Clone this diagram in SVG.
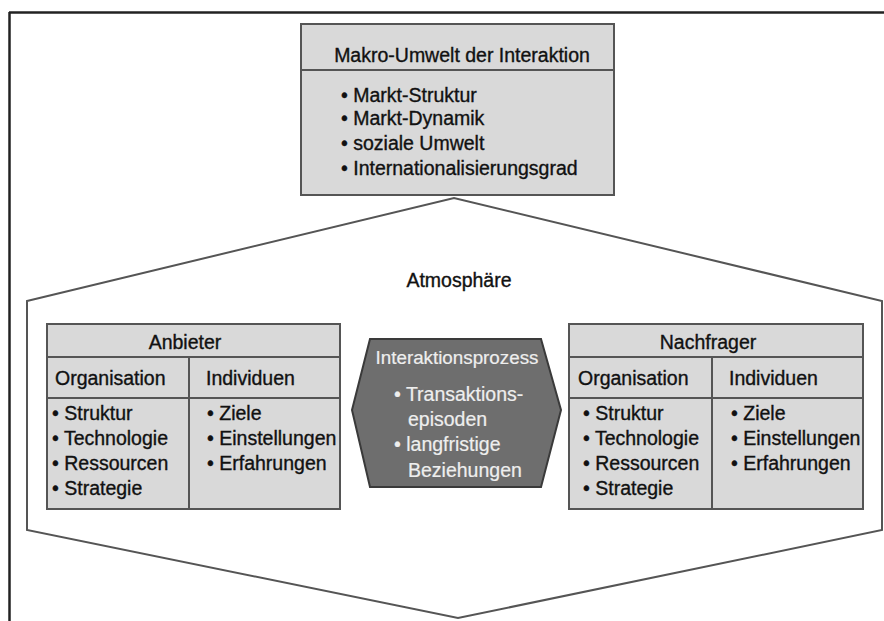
<svg xmlns="http://www.w3.org/2000/svg" width="884" height="621" viewBox="0 0 884 621">
<style>
text{font-family:"Liberation Sans",Arial,sans-serif;font-size:19.5px;fill:#111;stroke:#111;stroke-width:0.35px}
.box{fill:#d9d9d9;stroke:#555;stroke-width:2}
.sep{stroke:#555;stroke-width:2}
.mid{text-anchor:middle}
.light{fill:#eeeeee;stroke:#eeeeee;stroke-width:0.2px}
</style>
<rect x="0" y="0" width="884" height="621" fill="#fff"/>
<g id="frame" fill="none" stroke="#222" stroke-width="2.5">
<line x1="9" y1="12.5" x2="884" y2="12.5"/>
<line x1="9.5" y1="12" x2="9.5" y2="621"/>
</g>
<g id="atmosphaere">
<polygon points="27,301 454,198 882,301 882,530 458,618 27,530" fill="#fff" stroke="#555" stroke-width="2"/>
<text x="459" y="287" class="mid">Atmosphäre</text>
</g>
<g id="makro">
<rect class="box" x="301" y="24" width="313" height="171"/>
<line class="sep" x1="301" y1="70" x2="614" y2="70"/>
<text x="462" y="62" class="mid">Makro-Umwelt der Interaktion</text>
<text x="341" y="102">• Markt-Struktur</text>
<text x="341" y="125">• Markt-Dynamik</text>
<text x="341" y="150">• soziale Umwelt</text>
<text x="341" y="175">• Internationalisierungsgrad</text>
</g>
<g id="anbieter">
<rect class="box" x="47" y="324" width="293" height="185"/>
<line class="sep" x1="47" y1="357" x2="340" y2="357"/>
<line class="sep" x1="47" y1="398" x2="340" y2="398"/>
<line class="sep" x1="189" y1="357" x2="189" y2="509"/>
<text x="185" y="349" class="mid">Anbieter</text>
<text x="55" y="385">Organisation</text>
<text x="206" y="385">Individuen</text>
<text x="52" y="420">• Struktur</text>
<text x="52" y="445">• Technologie</text>
<text x="52" y="470">• Ressourcen</text>
<text x="52" y="495">• Strategie</text>
<text x="207" y="420">• Ziele</text>
<text x="207" y="445">• Einstellungen</text>
<text x="207" y="470">• Erfahrungen</text>
</g>
<g id="interaktionsprozess">
<polygon points="352,410 370,339 541,339 561,410 541,487 370,487" fill="#6e6e6e" stroke="#3a3a3a" stroke-width="2"/>
<text x="457" y="364" class="mid light" style="font-size:18.8px">Interaktionsprozess</text>
<text x="394" y="401" class="light">• Transaktions-</text>
<text x="408" y="426" class="light">episoden</text>
<text x="394" y="451" class="light">• langfristige</text>
<text x="408" y="477" class="light">Beziehungen</text>
</g>
<g id="nachfrager">
<rect class="box" x="569" y="324" width="294" height="185"/>
<line class="sep" x1="569" y1="357" x2="863" y2="357"/>
<line class="sep" x1="569" y1="398" x2="863" y2="398"/>
<line class="sep" x1="712" y1="357" x2="712" y2="509"/>
<text x="708" y="349" class="mid">Nachfrager</text>
<text x="578" y="385">Organisation</text>
<text x="729" y="385">Individuen</text>
<text x="583" y="420">• Struktur</text>
<text x="583" y="445">• Technologie</text>
<text x="583" y="470">• Ressourcen</text>
<text x="583" y="495">• Strategie</text>
<text x="731" y="420">• Ziele</text>
<text x="731" y="445">• Einstellungen</text>
<text x="731" y="470">• Erfahrungen</text>
</g>
<g id="connectors"/>
</svg>
